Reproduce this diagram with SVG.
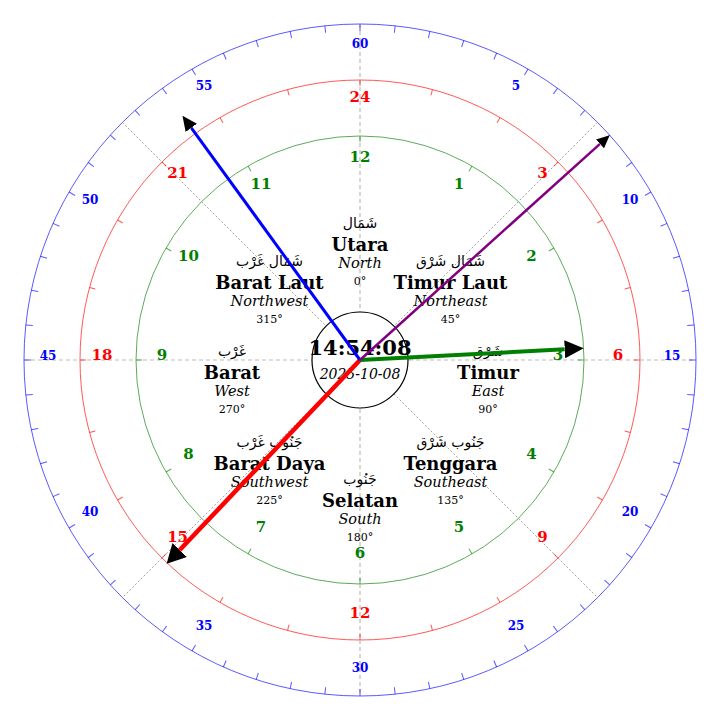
<svg xmlns="http://www.w3.org/2000/svg" xmlns:xlink="http://www.w3.org/1999/xlink" width="720" height="720" viewBox="0 0 720 720">
<style>
.ring{fill:none}
.rb{stroke:#0000ff;stroke-opacity:0.65;stroke-width:1}
.rr{stroke:#ff0000;stroke-opacity:0.65;stroke-width:1}
.rg{stroke:#008000;stroke-opacity:0.65;stroke-width:1}
.axis{stroke:#bbbbbb;stroke-width:1.2;stroke-dasharray:4,3}
.diag{stroke:#777777;stroke-width:0.7;stroke-dasharray:2,2}
.num{font-family:"DejaVu Serif",serif;font-weight:bold;text-anchor:middle}
.nb{fill:#0000ff;font-size:12px}
.nr{fill:#ff0000;font-size:15px}
.ng{fill:#008000;font-size:15px}
.ar{font-family:"DejaVu Sans",sans-serif;font-size:14px;text-anchor:middle;fill:#000}
.id{font-family:"DejaVu Serif",serif;font-size:18px;font-weight:bold;text-anchor:middle;fill:#000}
.en{font-family:"DejaVu Serif",serif;font-size:14.5px;font-style:italic;text-anchor:middle;fill:#000}
.dg{font-family:"DejaVu Serif",serif;font-size:11px;text-anchor:middle;fill:#000}
.hand{fill:none;stroke-linecap:butt}
</style>
<defs>
<line id="tb" x1="360" y1="24" x2="360" y2="31" stroke="#0000ff" stroke-opacity="0.65" stroke-width="1"/>
<line id="tr" x1="360" y1="80" x2="360" y2="86" stroke="#ff0000" stroke-opacity="0.65" stroke-width="1"/>
<line id="tg" x1="360" y1="136" x2="360" y2="142" stroke="#008000" stroke-opacity="0.65" stroke-width="1"/>
<marker id="ahR" markerUnits="userSpaceOnUse" markerWidth="19" markerHeight="20" refX="0" refY="10" orient="auto"><path d="M0,0 L19,10 L0,20 Z" fill="#000"/></marker>
<marker id="ahG" markerUnits="userSpaceOnUse" markerWidth="19" markerHeight="18" refX="0" refY="9" orient="auto"><path d="M0,0 L19,9 L0,18 Z" fill="#000"/></marker>
<marker id="ahB" markerUnits="userSpaceOnUse" markerWidth="15" markerHeight="14" refX="0" refY="7" orient="auto"><path d="M0,0 L15,7 L0,14 Z" fill="#000"/></marker>
<marker id="ahP" markerUnits="userSpaceOnUse" markerWidth="13" markerHeight="12" refX="0" refY="6" orient="auto"><path d="M0,0 L13,6 L0,12 Z" fill="#000"/></marker>
</defs>
<rect x="0" y="0" width="720" height="720" fill="#ffffff"/>

<g id="rings">
<circle class="ring rb" cx="360" cy="360" r="336"/>
<circle class="ring rr" cx="360" cy="360" r="280"/>
<circle class="ring rg" cx="360" cy="360" r="224"/>
</g>

<g id="axes">
<line class="axis" x1="24" y1="360" x2="696" y2="360"/>
<line class="axis" x1="360" y1="24" x2="360" y2="696"/>
<line class="diag" x1="122.4" y1="122.4" x2="597.6" y2="597.6"/>
<line class="diag" x1="597.6" y1="122.4" x2="122.4" y2="597.6"/>
</g>

<g id="minute-ticks">
<use xlink:href="#tb"/><use xlink:href="#tb" transform="rotate(6 360 360)"/><use xlink:href="#tb" transform="rotate(12 360 360)"/><use xlink:href="#tb" transform="rotate(18 360 360)"/><use xlink:href="#tb" transform="rotate(24 360 360)"/><use xlink:href="#tb" transform="rotate(30 360 360)"/>
<use xlink:href="#tb" transform="rotate(36 360 360)"/><use xlink:href="#tb" transform="rotate(42 360 360)"/><use xlink:href="#tb" transform="rotate(48 360 360)"/><use xlink:href="#tb" transform="rotate(54 360 360)"/><use xlink:href="#tb" transform="rotate(60 360 360)"/><use xlink:href="#tb" transform="rotate(66 360 360)"/>
<use xlink:href="#tb" transform="rotate(72 360 360)"/><use xlink:href="#tb" transform="rotate(78 360 360)"/><use xlink:href="#tb" transform="rotate(84 360 360)"/><use xlink:href="#tb" transform="rotate(90 360 360)"/><use xlink:href="#tb" transform="rotate(96 360 360)"/><use xlink:href="#tb" transform="rotate(102 360 360)"/>
<use xlink:href="#tb" transform="rotate(108 360 360)"/><use xlink:href="#tb" transform="rotate(114 360 360)"/><use xlink:href="#tb" transform="rotate(120 360 360)"/><use xlink:href="#tb" transform="rotate(126 360 360)"/><use xlink:href="#tb" transform="rotate(132 360 360)"/><use xlink:href="#tb" transform="rotate(138 360 360)"/>
<use xlink:href="#tb" transform="rotate(144 360 360)"/><use xlink:href="#tb" transform="rotate(150 360 360)"/><use xlink:href="#tb" transform="rotate(156 360 360)"/><use xlink:href="#tb" transform="rotate(162 360 360)"/><use xlink:href="#tb" transform="rotate(168 360 360)"/><use xlink:href="#tb" transform="rotate(174 360 360)"/>
<use xlink:href="#tb" transform="rotate(180 360 360)"/><use xlink:href="#tb" transform="rotate(186 360 360)"/><use xlink:href="#tb" transform="rotate(192 360 360)"/><use xlink:href="#tb" transform="rotate(198 360 360)"/><use xlink:href="#tb" transform="rotate(204 360 360)"/><use xlink:href="#tb" transform="rotate(210 360 360)"/>
<use xlink:href="#tb" transform="rotate(216 360 360)"/><use xlink:href="#tb" transform="rotate(222 360 360)"/><use xlink:href="#tb" transform="rotate(228 360 360)"/><use xlink:href="#tb" transform="rotate(234 360 360)"/><use xlink:href="#tb" transform="rotate(240 360 360)"/><use xlink:href="#tb" transform="rotate(246 360 360)"/>
<use xlink:href="#tb" transform="rotate(252 360 360)"/><use xlink:href="#tb" transform="rotate(258 360 360)"/><use xlink:href="#tb" transform="rotate(264 360 360)"/><use xlink:href="#tb" transform="rotate(270 360 360)"/><use xlink:href="#tb" transform="rotate(276 360 360)"/><use xlink:href="#tb" transform="rotate(282 360 360)"/>
<use xlink:href="#tb" transform="rotate(288 360 360)"/><use xlink:href="#tb" transform="rotate(294 360 360)"/><use xlink:href="#tb" transform="rotate(300 360 360)"/><use xlink:href="#tb" transform="rotate(306 360 360)"/><use xlink:href="#tb" transform="rotate(312 360 360)"/><use xlink:href="#tb" transform="rotate(318 360 360)"/>
<use xlink:href="#tb" transform="rotate(324 360 360)"/><use xlink:href="#tb" transform="rotate(330 360 360)"/><use xlink:href="#tb" transform="rotate(336 360 360)"/><use xlink:href="#tb" transform="rotate(342 360 360)"/><use xlink:href="#tb" transform="rotate(348 360 360)"/><use xlink:href="#tb" transform="rotate(354 360 360)"/>
</g>

<g id="hour24-ticks">
<use xlink:href="#tr"/><use xlink:href="#tr" transform="rotate(15 360 360)"/><use xlink:href="#tr" transform="rotate(30 360 360)"/><use xlink:href="#tr" transform="rotate(45 360 360)"/><use xlink:href="#tr" transform="rotate(60 360 360)"/><use xlink:href="#tr" transform="rotate(75 360 360)"/>
<use xlink:href="#tr" transform="rotate(90 360 360)"/><use xlink:href="#tr" transform="rotate(105 360 360)"/><use xlink:href="#tr" transform="rotate(120 360 360)"/><use xlink:href="#tr" transform="rotate(135 360 360)"/><use xlink:href="#tr" transform="rotate(150 360 360)"/><use xlink:href="#tr" transform="rotate(165 360 360)"/>
<use xlink:href="#tr" transform="rotate(180 360 360)"/><use xlink:href="#tr" transform="rotate(195 360 360)"/><use xlink:href="#tr" transform="rotate(210 360 360)"/><use xlink:href="#tr" transform="rotate(225 360 360)"/><use xlink:href="#tr" transform="rotate(240 360 360)"/><use xlink:href="#tr" transform="rotate(255 360 360)"/>
<use xlink:href="#tr" transform="rotate(270 360 360)"/><use xlink:href="#tr" transform="rotate(285 360 360)"/><use xlink:href="#tr" transform="rotate(300 360 360)"/><use xlink:href="#tr" transform="rotate(315 360 360)"/><use xlink:href="#tr" transform="rotate(330 360 360)"/><use xlink:href="#tr" transform="rotate(345 360 360)"/>
</g>

<g id="hour12-ticks">
<use xlink:href="#tg"/><use xlink:href="#tg" transform="rotate(30 360 360)"/><use xlink:href="#tg" transform="rotate(60 360 360)"/><use xlink:href="#tg" transform="rotate(90 360 360)"/><use xlink:href="#tg" transform="rotate(120 360 360)"/><use xlink:href="#tg" transform="rotate(150 360 360)"/>
<use xlink:href="#tg" transform="rotate(180 360 360)"/><use xlink:href="#tg" transform="rotate(210 360 360)"/><use xlink:href="#tg" transform="rotate(240 360 360)"/><use xlink:href="#tg" transform="rotate(270 360 360)"/><use xlink:href="#tg" transform="rotate(300 360 360)"/><use xlink:href="#tg" transform="rotate(330 360 360)"/>
</g>

<g id="minute-labels" class="num nb">
<text x="360" y="48">60</text>
<text x="516" y="90">5</text>
<text x="630" y="204">10</text>
<text x="672" y="360">15</text>
<text x="630" y="516">20</text>
<text x="516" y="630">25</text>
<text x="360" y="672">30</text>
<text x="204" y="630">35</text>
<text x="90" y="516">40</text>
<text x="48" y="360">45</text>
<text x="90" y="204">50</text>
<text x="204" y="90">55</text>
</g>

<g id="hour24-labels" class="num nr">
<text x="360" y="102">24</text>
<text x="542.4" y="177.6">3</text>
<text x="618" y="360">6</text>
<text x="542.4" y="542.4">9</text>
<text x="360" y="618">12</text>
<text x="177.6" y="542.4">15</text>
<text x="102" y="360">18</text>
<text x="177.6" y="177.6">21</text>
</g>

<g id="hour12-labels" class="num ng">
<text x="360" y="162">12</text>
<text x="459" y="188.5">1</text>
<text x="531.5" y="261">2</text>
<text x="558" y="360">3</text>
<text x="531.5" y="459">4</text>
<text x="459" y="531.5">5</text>
<text x="360" y="558">6</text>
<text x="261" y="531.5">7</text>
<text x="188.5" y="459">8</text>
<text x="162" y="360">9</text>
<text x="188.5" y="261">10</text>
<text x="261" y="188.5">11</text>
</g>

<g id="dir-n">
<text class="ar" x="360" y="228">شَمَال</text>
<text class="id" x="360" y="251">Utara</text>
<text class="en" x="360" y="268">North</text>
<text class="dg" x="360" y="285">0°</text>
</g>
<g id="dir-ne">
<text class="ar" x="450.5" y="265.5">شَمَال شَرْق</text>
<text class="id" x="450.5" y="288.5">Timur Laut</text>
<text class="en" x="450.5" y="305.5">Northeast</text>
<text class="dg" x="450.5" y="322.5">45°</text>
</g>
<g id="dir-e">
<text class="ar" x="488" y="356">شَرْق</text>
<text class="id" x="488" y="379">Timur</text>
<text class="en" x="488" y="396">East</text>
<text class="dg" x="488" y="413">90°</text>
</g>
<g id="dir-se">
<text class="ar" x="450.5" y="446.5">جَنُوب شَرْق</text>
<text class="id" x="450.5" y="469.5">Tenggara</text>
<text class="en" x="450.5" y="486.5">Southeast</text>
<text class="dg" x="450.5" y="503.5">135°</text>
</g>
<g id="dir-s">
<text class="ar" x="360" y="484">جَنُوب</text>
<text class="id" x="360" y="507">Selatan</text>
<text class="en" x="360" y="524">South</text>
<text class="dg" x="360" y="541">180°</text>
</g>
<g id="dir-sw">
<text class="ar" x="269.5" y="446.5">جَنُوب غَرْب</text>
<text class="id" x="269.5" y="469.5">Barat Daya</text>
<text class="en" x="269.5" y="486.5">Southwest</text>
<text class="dg" x="269.5" y="503.5">225°</text>
</g>
<g id="dir-w">
<text class="ar" x="232" y="356">غَرْب</text>
<text class="id" x="232" y="379">Barat</text>
<text class="en" x="232" y="396">West</text>
<text class="dg" x="232" y="413">270°</text>
</g>
<g id="dir-nw">
<text class="ar" x="269.5" y="265.5">شَمَال غَرْب</text>
<text class="id" x="269.5" y="288.5">Barat Laut</text>
<text class="en" x="269.5" y="305.5">Northwest</text>
<text class="dg" x="269.5" y="322.5">315°</text>
</g>

<g id="center">
<circle cx="360" cy="360" r="48" fill="#ffffff" stroke="#000000" stroke-width="1.2"/>
<text x="360" y="355" font-family="DejaVu Serif, serif" font-size="21px" font-weight="bold" text-anchor="middle" fill="#000">14:54:08</text>
<text x="360" y="379" font-family="DejaVu Serif, serif" font-size="14px" font-style="italic" text-anchor="middle" fill="#000">2025-10-08</text>
</g>

<g id="hands">
<line class="hand" x1="360" y1="360" x2="179.7" y2="550.0" stroke="#ff0000" stroke-width="4.5" marker-end="url(#ahR)"/>
<line class="hand" x1="360" y1="360" x2="564.7" y2="349.3" stroke="#008000" stroke-width="4" marker-end="url(#ahG)"/>
<line class="hand" x1="360" y1="360" x2="191.3" y2="127.8" stroke="#0000ff" stroke-width="3" marker-end="url(#ahB)"/>
<line class="hand" x1="360" y1="360" x2="600.0" y2="143.9" stroke="#800080" stroke-width="2.5" marker-end="url(#ahP)"/>
</g>
</svg>
